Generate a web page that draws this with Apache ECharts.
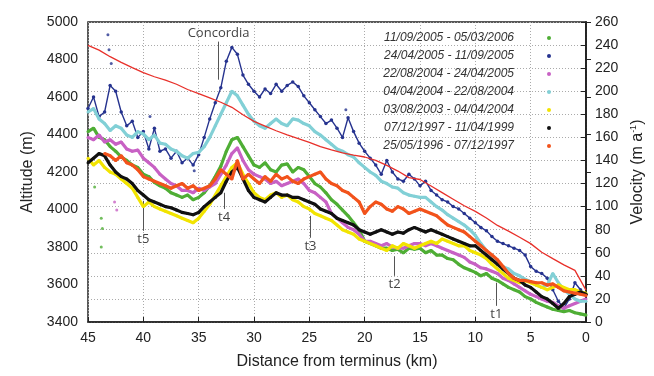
<!DOCTYPE html>
<html>
<head>
<meta charset="utf-8">
<script src="https://cdn.jsdelivr.net/npm/echarts@6/dist/echarts.min.js"></script>
<style>
html, body { margin: 0; padding: 0; background: #fff; }
#chart { width: 654px; height: 376px; }
</style>
</head>
<body>
<div id="chart"></div>
<script>
// distance from terminus (km), every 0.5 km
const dist = [45,44.5,44,43.5,43,42.5,42,41.5,41,40.5,40,39.5,39,38.5,38,37.5,37,36.5,36,35.5,35,34.5,34,33.5,33,32.5,32,31.5,31,30.5,30,29.5,29,28.5,28,27.5,27,26.5,26,25.5,25,24.5,24,23.5,23,22.5,22,21.5,21,20.5,20,19.5,19,18.5,18,17.5,17,16.5,16,15.5,15,14.5,14,13.5,13,12.5,12,11.5,11,10.5,10,9.5,9,8.5,8,7.5,7,6.5,6,5.5,5,4.5,4,3.5,3,2.5,2,1.5,1,0.5,0];

// velocity (m/a) per period
const v2005b = [165,168,160,158,152,148,143,140,136,134,128,126,121,118,116,112,110,108,110,106,108,112,118,126,135,148,158,160,152,144,136,134,138,132,130,136,137,130,134,132,126,120,117,112,106,102,97,92,86,80,70,68,66,64,64,62,63,60,64,63,64,60,62,58,58,55,54,50,47,45,43,40,42,38,36,33,30,28,26,22,20,17,15,13,11,10,9,10,8,7,6];
const v2005a = [185,195,178,182,205,200,182,170,174,160,165,150,168,148,150,142,148,138,142,136,145,160,176,190,203,226,238,232,214,206,200,195,202,198,206,200,205,208,204,196,190,184,178,172,175,168,160,177,165,155,148,142,136,128,140,130,124,122,128,124,118,122,114,110,106,104,100,98,94,90,86,82,79,74,70,68,66,64,62,58,48,44,42,38,28,18,12,20,34,28,24];
const v2004b = [160,158,162,156,158,154,156,150,148,149,142,138,134,128,124,120,118,114,114,112,116,114,117,120,128,136,146,151,140,132,128,126,124,120,122,118,120,122,124,120,114,112,108,104,94,90,86,82,80,76,70,70,68,66,68,65,64,64,66,68,68,66,68,66,64,62,60,58,56,52,50,47,46,44,42,38,36,33,30,27,24,22,20,18,17,14,12,14,16,18,20];
const v2004a = [182,185,176,172,166,170,168,162,160,165,163,158,162,155,154,150,148,144,142,146,147,152,160,170,180,190,200,196,188,180,174,170,168,172,176,172,170,176,175,172,170,165,162,158,154,150,148,145,143,138,134,130,127,122,120,117,116,112,110,109,108,108,104,100,97,93,90,87,84,80,75,68,62,56,52,48,46,42,40,37,35,32,30,32,42,34,28,24,20,18,18];
const v2003 = [142,136,140,134,130,128,124,120,116,108,100,104,100,98,96,94,92,90,88,86,90,96,102,110,118,126,134,138,128,120,112,108,106,110,112,108,110,106,104,100,98,94,92,90,88,84,80,78,76,72,70,68,66,64,62,66,64,68,66,64,66,68,70,68,72,70,68,66,66,62,60,58,55,50,46,42,38,36,34,36,34,32,30,28,30,32,30,28,28,26,25];
const v1997b = [138,142,146,144,136,130,126,124,120,114,110,106,104,102,100,99,97,95,94,93,95,100,104,108,112,122,130,134,124,114,108,106,104,108,112,110,110,108,108,106,104,102,98,96,94,90,88,86,84,80,78,76,78,80,78,76,78,77,80,82,80,78,80,78,76,74,72,70,68,66,66,62,58,54,50,46,42,38,36,32,30,26,22,20,16,12,16,22,24,26,24];
const v1996 = [null,null,null,146,144,140,144,138,136,132,126,124,122,120,118,116,118,120,116,118,114,116,118,124,132,128,124,140,124,128,124,120,126,122,128,124,126,122,120,124,126,128,130,124,120,118,114,112,108,104,94,100,104,102,98,96,100,98,94,96,98,96,94,92,88,84,82,80,78,74,70,66,62,58,54,48,42,38,36,36,35,34,34,32,33,30,27,26,25,24,23];

// scattered single points [km, m/a]
const v2005bOut = [[43.8, 90], [43.7, 81], [43.8, 65], [44.4, 117]];
const v2005aOut = [[43.2, 249], [43.1, 236], [42.9, 224], [35.4, 131], [35.3, 114], [39.4, 178], [21.7, 184]];
const v2004bOut = [[42.4, 97], [42.6, 104]];

// altitude profile (m), every 1 km
const altDist = [45,44,43,42,41,40,39,38,37,36,35,34,33,32,31,30,29,28,27,26,25,24,23,22,21,20,19,18,17,16,15,14,13,12,11,10,9,8,7,6,5,4,3,2,1,0];
const altitude = [4875,4850,4815,4785,4757,4730,4708,4690,4668,4640,4618,4595,4572,4545,4505,4470,4445,4420,4398,4378,4358,4335,4318,4302,4290,4280,4262,4235,4205,4170,4160,4125,4090,4055,4020,3990,3955,3915,3885,3852,3818,3772,3738,3705,3675,3570];

const periods = [
  '11/09/2005 - 05/03/2006',
  '24/04/2005 - 11/09/2005',
  '22/08/2004 - 24/04/2005',
  '04/04/2004 - 22/08/2004',
  '03/08/2003 - 04/04/2004',
  '07/12/1997 - 11/04/1999',
  '25/05/1996 - 07/12/1997'
];
const colors = ['#4fae35', '#26338f', '#c861c4', '#82d0d6', '#f2e400', '#111111', '#f2531c'];
const values = [v2005b, v2005a, v2004b, v2004a, v2003, v1997b, v1996];

// annotation marks: [label, km, top m/a, bottom m/a]
const notes = [
  ['t5', 40, 105, 79],
  ['t4', 32.7, 112, 98],
  ['t3', 24.9, 92, 73],
  ['t2', 17.3, 57, 40],
  ['t1', 8.1, 34, 14]
];

const font = 'Liberation Sans';

const series = [];
periods.forEach((p, i) => {
  series.push({
    name: p,
    type: 'line',
    yAxisIndex: 1,
    data: dist.map((d, j) => [d, values[i][j]]),
    symbol: 'circle',
    symbolSize: i === 1 ? 3.5 : 3,
    showSymbol: true,
    lineStyle: { width: i === 1 ? 1.4 : 3.2, color: colors[i] },
    itemStyle: { color: colors[i] },
    connectNulls: false,
    animation: false,
    z: 2 + i
  });
});
[[v2005bOut, 0], [v2005aOut, 1], [v2004bOut, 2]].forEach(([pts, i]) => {
  series.push({
    name: periods[i], type: 'scatter', yAxisIndex: 1, data: pts,
    symbolSize: 3, itemStyle: { color: colors[i] }, animation: false, z: 2 + i
  });
});
series.push({
  name: 'altitude',
  type: 'line',
  yAxisIndex: 0,
  data: altDist.map((d, j) => [d, altitude[j]]),
  showSymbol: false,
  lineStyle: { width: 1.3, color: '#e8302a' },
  animation: false,
  z: 10
});
series.push({
  type: 'scatter',
  yAxisIndex: 1,
  data: [],
  silent: true,
  markLine: {
    symbol: ['none', 'none'],
    silent: true,
    animation: false,
    lineStyle: { color: '#555', width: 1, type: 'solid' },
    label: {
      position: 'end', distance: 2, formatter: '{b}',
      color: '#444', fontSize: 13, fontFamily: 'Open Sans'
    },
    data: notes.map(n => [{ name: n[0], coord: [n[1], n[2]] }, { coord: [n[1], n[3]] }])
      .concat([[{ name: 'Concordia', coord: [33.2, 210] }, { coord: [33.2, 243] }]])
  }
});

const chart = echarts.init(document.getElementById('chart'), null, { renderer: 'canvas' });
chart.setOption({
  backgroundColor: '#fff',
  animation: false,
  grid: {
    left: 88, right: 68, top: 22, bottom: 54,
    show: true, borderColor: '#222', borderWidth: 1.5
  },
  legend: {
    orient: 'vertical',
    right: 98,
    top: 26,
    align: 'right',
    icon: 'circle',
    itemWidth: 4,
    itemHeight: 4,
    itemGap: 4,
    data: periods,
    textStyle: {
      fontStyle: 'italic', fontSize: 12, color: '#333', fontFamily: font,
      lineHeight: 14, padding: [0, 28, 0, 0]
    }
  },
  xAxis: {
    type: 'value',
    inverse: true,
    min: 0, max: 45, interval: 5,
    name: 'Distance from terminus (km)',
    nameLocation: 'middle',
    nameGap: 32,
    nameTextStyle: { fontSize: 16, color: '#222', fontFamily: font },
    axisLine: { lineStyle: { color: '#222', width: 1.5 } },
    axisTick: { inside: true, length: 5, lineStyle: { color: '#222' } },
    axisLabel: { fontSize: 14, color: '#222', fontFamily: font, margin: 9 },
    splitLine: { show: true, lineStyle: { color: '#aaa', type: [1, 2], width: 1 } }
  },
  yAxis: [{
    type: 'value',
    min: 3400, max: 5000, interval: 200,
    name: 'Altitude (m)',
    nameLocation: 'middle',
    nameGap: 50,
    nameTextStyle: { fontSize: 16, color: '#222', fontFamily: font },
    axisLine: { show: true, lineStyle: { color: '#222', width: 1.5 } },
    axisTick: { show: true, inside: true, length: 5, lineStyle: { color: '#222' } },
    axisLabel: { fontSize: 14, color: '#222', fontFamily: font, margin: 10, formatter: v => String(v) },
    splitLine: { show: false }
  }, {
    type: 'value',
    position: 'right',
    min: 0, max: 260, interval: 20,
    name: 'Velocity (m a{sup|-1})',
    nameLocation: 'middle',
    nameGap: 40,
    nameRotate: 90,
    nameTextStyle: {
      fontSize: 16, color: '#222', fontFamily: font,
      rich: { sup: { fontSize: 9, color: '#222', fontFamily: font, verticalAlign: 'top', padding: [0, 0, 8, 0] } }
    },
    axisLine: { show: true, lineStyle: { color: '#222', width: 1.5 } },
    axisTick: { show: true, inside: true, length: 5, lineStyle: { color: '#222' } },
    axisLabel: { fontSize: 14, color: '#222', fontFamily: font, margin: 9 },
    splitLine: { show: true, lineStyle: { color: '#aaa', type: [1, 2], width: 1 } }
  }],
  series: series
});
</script>
</body>
</html>
